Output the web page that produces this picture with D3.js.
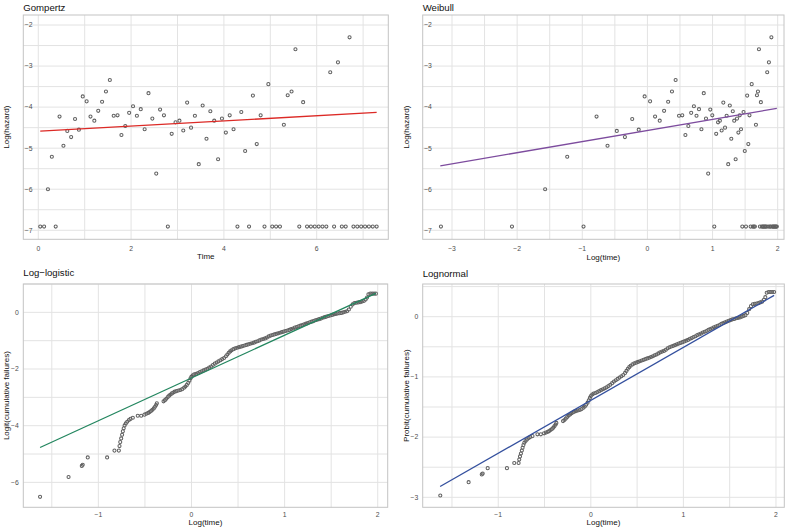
<!DOCTYPE html>
<html><head><meta charset="utf-8">
<script src="https://cdn.jsdelivr.net/npm/d3@7"></script>
<style>body{margin:0;background:#fff;} svg text{font-family:"Liberation Sans",Arial,Helvetica,sans-serif;}</style>
</head><body><svg id="c" width="796" height="529"></svg>
<script>
// ---- data ----
const hazardTime = [0.042,0.125,0.208,0.292,0.375,0.458,0.542,0.625,0.708,0.792,0.875,0.958,
 1.042,1.125,1.208,1.292,1.375,1.458,1.542,1.625,1.708,1.792,1.875,1.958,
 2.042,2.125,2.208,2.292,2.375,2.458,2.542,2.625,2.708,2.792,2.875,2.958,
 3.042,3.125,3.208,3.292,3.375,3.458,3.542,3.625,3.708,3.792,3.875,3.958,
 4.042,4.125,4.208,4.292,4.375,4.458,4.542,4.625,4.708,4.792,4.875,4.958,
 5.042,5.125,5.208,5.292,5.375,5.458,5.542,5.625,5.708,5.792,5.875,5.958,
 6.042,6.125,6.208,6.292,6.375,6.458,6.542,6.625,6.708,6.792,6.875,6.958,
 7.042,7.125,7.208,7.292];
const logHazard = [-6.91,-6.91,-6.00,-5.21,-6.91,-4.23,-4.94,-4.58,-4.73,-4.29,-4.55,-3.74,
 -3.86,-4.23,-4.33,-4.09,-3.87,-3.62,-3.34,-4.21,-4.20,-4.68,-4.46,-4.14,
 -3.98,-4.21,-4.05,-4.54,-3.66,-4.28,-5.62,-4.06,-4.20,-6.91,-4.65,-4.37,
 -4.33,-4.57,-3.89,-4.50,-4.21,-5.39,-3.96,-4.77,-4.10,-4.33,-5.27,-4.28,
 -4.62,-4.20,-4.54,-6.91,-4.12,-5.07,-6.91,-3.72,-4.90,-4.20,-6.91,-3.44,
 -6.91,-6.91,-6.91,-4.43,-3.71,-3.62,-2.59,-6.91,-3.88,-6.91,-6.91,-6.91,
 -6.91,-6.91,-6.91,-3.15,-6.91,-2.91,-6.91,-6.91,-2.30,-6.91,-6.91,-6.91,
 -6.91,-6.91,-6.91,-6.91];
const gompertzLine = [[0.042,-4.585],[7.292,-4.13]];
const weibullLine = [[-3.18,-5.43],[1.987,-4.03]];

const cumLogTime = [-1.626,-1.32,-1.178,-1.168,-1.114,-0.906,-0.827,-0.78,-0.773,-0.765,-0.755,-0.745,
 -0.737,-0.728,-0.718,-0.705,-0.69,-0.672,-0.655,-0.63,-0.577,-0.54,-0.505,-0.485,-0.465,-0.45,
 -0.435,-0.42,-0.405,-0.392,-0.38,-0.372,
 -0.30,-0.285,-0.27,-0.255,-0.24,-0.225,-0.21,-0.195,-0.18,-0.16,-0.14,-0.12,-0.10,-0.08,-0.065,
 -0.05,-0.035,-0.022,-0.01,0.0,0.015,0.03,0.05,0.07,0.09,0.11,0.13,0.15,0.17,0.19,0.21,0.23,0.25,
 0.27,0.29,0.31,0.33,0.35,0.37,0.385,0.40,0.415,0.43,0.45,0.47,0.49,0.51,0.53,0.55,0.57,0.59,0.61,
 0.63,0.65,0.67,0.69,0.71,0.73,0.75,0.77,0.79,0.81,0.83,0.85,0.87,0.89,0.91,0.93,0.95,0.97,0.99,
 1.01,1.03,1.05,1.07,1.09,1.11,1.13,1.15,1.17,1.19,1.21,1.23,1.25,1.27,1.29,1.31,1.33,1.35,1.37,
 1.39,1.41,1.43,1.45,1.47,1.49,1.51,1.53,1.55,1.57,1.59,1.61,1.63,1.65,1.67,1.69,1.71,1.73,1.75,
 1.77,1.79,1.81,1.83,1.85,1.87,1.885,1.90,1.92,1.94,1.96,1.98];
const cumLogit = [-6.51,-5.81,-5.42,-5.38,-5.12,-5.12,-4.88,-4.88,-4.72,-4.58,-4.45,-4.32,
 -4.20,-4.09,-3.99,-3.92,-3.86,-3.80,-3.76,-3.72,-3.65,-3.65,-3.61,-3.58,-3.55,-3.52,
 -3.48,-3.44,-3.39,-3.33,-3.27,-3.21,
 -3.14,-3.10,-3.05,-2.99,-2.94,-2.90,-2.86,-2.83,-2.80,-2.78,-2.76,-2.74,-2.71,-2.66,-2.62,
 -2.56,-2.49,-2.41,-2.33,-2.27,-2.22,-2.19,-2.17,-2.14,-2.11,-2.08,-2.05,-2.02,-1.99,-1.95,-1.91,-1.86,-1.81,
 -1.77,-1.73,-1.69,-1.65,-1.61,-1.55,-1.49,-1.43,-1.38,-1.34,-1.30,-1.27,-1.25,-1.23,-1.21,-1.19,-1.17,-1.15,-1.13,
 -1.11,-1.09,-1.07,-1.04,-1.02,-0.99,-0.96,-0.94,-0.92,-0.89,-0.85,-0.82,-0.80,-0.78,-0.76,-0.74,-0.72,-0.70,-0.68,
 -0.66,-0.64,-0.62,-0.59,-0.57,-0.54,-0.52,-0.49,-0.47,-0.45,-0.42,-0.40,-0.38,-0.35,-0.33,-0.31,-0.28,-0.26,-0.24,
 -0.22,-0.19,-0.17,-0.15,-0.13,-0.11,-0.09,-0.07,-0.06,-0.04,-0.03,-0.02,0.0,0.02,0.04,0.10,0.20,0.28,0.33,
 0.34,0.35,0.36,0.38,0.40,0.45,0.52,0.64,0.66,0.66,0.66,0.66];
const loglogisticLine = [[-1.626,-4.77],[1.98,0.67]];
const lognormalLine = [[-1.628,-2.82],[1.98,0.353]];

const titles = ["Gompertz","Weibull","Log\u2212logistic","Lognormal"];
const xTitles = ["Time","Log(time)","Log(time)","Log(time)"];
const yTitles = ["Log(hazard)","Log(hazard)","Logit(cumulative failures)","Probit(cumulative failures)"];
const lineColors = ["#DC2A26","#7D4C9E","#23865F","#34509E"];

// inverse normal CDF (Acklam) for probit transform
function qnorm(p){
  const a=[-3.969683028665376e+01,2.209460984245205e+02,-2.759285104469687e+02,1.383577518672690e+02,-3.066479806614716e+01,2.506628277459239e+00];
  const b=[-5.447609879822406e+01,1.615858368580409e+02,-1.556989798598866e+02,6.680131188771972e+01,-1.328068155288572e+01];
  const c=[-7.784894002430293e-03,-3.223964580411365e-01,-2.400758277161838e+00,-2.549732539343734e+00,4.374664141464968e+00,2.938163982698783e+00];
  const d=[7.784695709041462e-03,3.224671290700398e-01,2.445134137142996e+00,3.754408661907416e+00];
  const pl=0.02425;
  let q,r;
  if(p<pl){q=Math.sqrt(-2*Math.log(p));return (((((c[0]*q+c[1])*q+c[2])*q+c[3])*q+c[4])*q+c[5])/((((d[0]*q+d[1])*q+d[2])*q+d[3])*q+1);}
  if(p>1-pl){q=Math.sqrt(-2*Math.log(1-p));return -(((((c[0]*q+c[1])*q+c[2])*q+c[3])*q+c[4])*q+c[5])/((((d[0]*q+d[1])*q+d[2])*q+d[3])*q+1);}
  q=p-0.5;r=q*q;
  return (((((a[0]*r+a[1])*r+a[2])*r+a[3])*r+a[4])*r+a[5])*q/(((((b[0]*r+b[1])*r+b[2])*r+b[3])*r+b[4])*r+1);
}
const cumProbit = cumLogit.map(l => qnorm(1/(1+Math.exp(-l))));

const svg = d3.select("#c");
svg.append("rect").attr("width",796).attr("height",529).attr("fill","#fff");

const panels = [
 {box:{l:23.3,r:388.3,t:15,b:239.3}, xd:[-0.323,7.543], yd:[-7.22,-1.756],
  xticks:[0,2,4,6], yticks:[-7,-6,-5,-4,-3,-2], xgrid:d3.range(0,7.5,1), ygrid:d3.range(-7,-1.9,0.5),
  pts: hazardTime.map((t,i)=>[t,logHazard[i]]), line:gompertzLine, yInside:true,
  titleY:10.5, xTickY:248.3, xTitleY:256.5, yTitleX:6},
 {box:{l:422.7,r:784,t:15,b:239.3}, xd:[-3.45,2.097], yd:[-7.22,-1.756],
  xticks:[-3,-2,-1,0,1,2], yticks:[-7,-6,-5,-4,-3,-2], xgrid:d3.range(-3,2.01,0.5), ygrid:d3.range(-7,-1.9,0.5),
  pts: hazardTime.map((t,i)=>[Math.log(t),logHazard[i]]), line:weibullLine, yInside:true,
  titleY:10.5, xTickY:248.3, xTitleY:257.5, yTitleX:406},
 {box:{l:23.3,r:387.7,t:284,b:507.3}, xd:[-1.806,2.107], yd:[-6.88,1.0],
  xticks:[-1,0,1,2], yticks:[-6,-4,-2,0], xgrid:d3.range(-1.5,2.01,0.5), ygrid:d3.range(-6,1.01,1),
  pts: cumLogTime.map((x,i)=>[x,cumLogit[i]]), line:loglogisticLine, yInside:false,
  titleY:275.5, xTickY:514.7, xTitleY:521.7, yTitleX:6},
 {box:{l:422.7,r:784.3,t:284,b:507.3}, xd:[-1.816,2.09], yd:[-3.166,0.543],
  xticks:[-1,0,1,2], yticks:[-3,-2,-1,0], xgrid:d3.range(-1.5,2.01,0.5), ygrid:d3.range(-3,0.51,0.5),
  pts: cumLogTime.map((x,i)=>[x,cumProbit[i]]), line:lognormalLine, yInside:false,
  titleY:276.5, xTickY:514.7, xTitleY:521.7, yTitleX:406}
];

const fmt = d3.format("d");
panels.forEach((p,k)=>{
  const b=p.box;
  const x=d3.scaleLinear().domain(p.xd).range([b.l,b.r]);
  const y=d3.scaleLinear().domain(p.yd).range([b.b,b.t]);
  const g=svg.append("g");
  // grid
  g.selectAll(".gx").data(p.xgrid).join("line")
    .attr("x1",d=>x(d)).attr("x2",d=>x(d)).attr("y1",b.t).attr("y2",b.b)
    .attr("stroke","#e3e3e3").attr("stroke-width",1);
  g.selectAll(".gy").data(p.ygrid).join("line")
    .attr("x1",b.l).attr("x2",b.r).attr("y1",d=>y(d)).attr("y2",d=>y(d))
    .attr("stroke","#e3e3e3").attr("stroke-width",1);
  // border
  g.append("rect").attr("x",b.l).attr("y",b.t).attr("width",b.r-b.l).attr("height",b.b-b.t)
    .attr("fill","none").attr("stroke","#c4c4c4").attr("stroke-width",1);
  // points
  g.selectAll(".pt").data(p.pts).join("circle")
    .attr("cx",d=>x(d[0])).attr("cy",d=>y(d[1])).attr("r",1.55)
    .attr("fill","none").attr("stroke","#606060").attr("stroke-width",1.05);
  // fitted line
  g.append("path").datum(p.line)
    .attr("d",d3.line().x(d=>x(d[0])).y(d=>y(d[1])))
    .attr("fill","none").attr("stroke",lineColors[k]).attr("stroke-width",1.3);
  // tick labels
  g.selectAll(".xt").data(p.xticks).join("text")
    .attr("x",d=>x(d)).attr("y",p.xTickY).attr("dy","0.35em").attr("text-anchor","middle")
    .attr("font-size",6.8).attr("fill","#4d4d4d").text(d=>fmt(d));
  const yx = p.yInside ? b.l+9.2 : b.l-4.5;
  g.selectAll(".yt").data(p.yticks).join("text")
    .attr("x",yx).attr("y",d=>y(d)).attr("dy","0.35em").attr("text-anchor","end")
    .attr("font-size",6.8).attr("fill","#4d4d4d").text(d=>fmt(d));
  // axis titles
  g.append("text").attr("x",(b.l+b.r)/2).attr("y",p.xTitleY).attr("dy","0.35em")
    .attr("text-anchor","middle").attr("font-size",8).attr("fill","#111").text(xTitles[k]);
  g.append("text").attr("transform",`translate(${p.yTitleX},${(b.t+b.b)/2}) rotate(-90)`)
    .attr("dy","0.35em").attr("text-anchor","middle").attr("font-size",8).attr("fill","#111").text(yTitles[k]);
  // title
  g.append("text").attr("x",b.l).attr("y",p.titleY).attr("font-size",9.6).attr("fill","#111").text(titles[k]);
});
</script></body></html>
